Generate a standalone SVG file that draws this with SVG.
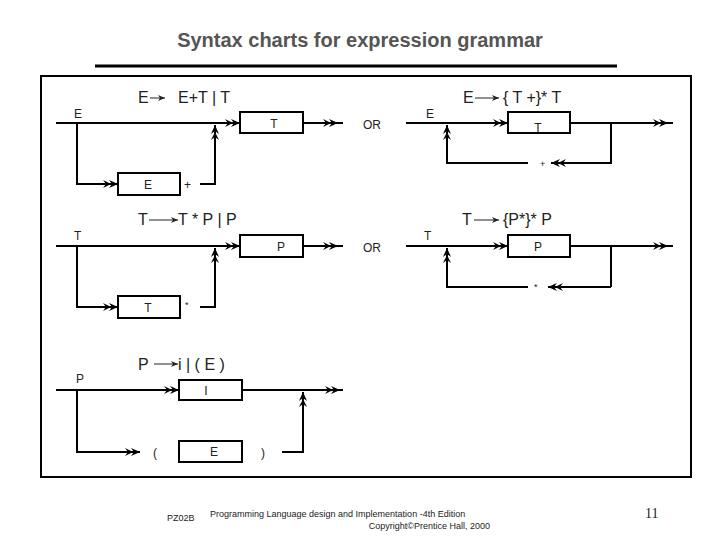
<svg xmlns="http://www.w3.org/2000/svg" width="720" height="540" viewBox="0 0 720 540">
<style>
text{font-family:"Liberation Sans",Arial,sans-serif;fill:#222}
.h{font-size:16px}
.l{font-size:12px}
.s{font-size:9px}
.box{fill:#fff;stroke:#000;stroke-width:2}
.c line,.c polyline{stroke:#000;stroke-width:2;fill:none}
.ar{stroke:#222;stroke-width:1}
</style>
<defs>
<marker id="a" viewBox="0 0 16 10" refX="15" refY="5" markerWidth="16" markerHeight="10" markerUnits="userSpaceOnUse" orient="auto">
<path d="M0,1 L8,5 L0,9 L3,5 Z M6,1 L15,5 L6,9 L9,5 Z" fill="#000"/>
</marker>
<marker id="s" viewBox="0 0 8 6" refX="7" refY="3" markerWidth="8" markerHeight="6" markerUnits="userSpaceOnUse" orient="auto">
<path d="M0,0 L7,3 L0,6 L2,3 Z" fill="#222"/>
</marker>
</defs>
<rect width="720" height="540" fill="#fff"/>
<text x="360" y="47" text-anchor="middle" style="font-size:20px;font-weight:bold;fill:#555">Syntax charts for expression grammar</text>
<line x1="95" y1="66" x2="617" y2="66" stroke="#000" stroke-width="3"/>
<rect x="41" y="76" width="650" height="401" fill="none" stroke="#000" stroke-width="2"/>
<g class="c" id="connectors">
<line x1="56" y1="123" x2="240" y2="123" marker-end="url(#a)"/>
<line x1="303" y1="123" x2="343" y2="123"/><line x1="303" y1="123" x2="338" y2="123" marker-end="url(#a)"/>
<polyline points="77,123 77,184 118,184" marker-end="url(#a)"/>
<polyline points="200,184 215,184 215,125" marker-end="url(#a)"/>
<line x1="56" y1="246" x2="240" y2="246" marker-end="url(#a)"/>
<line x1="303" y1="246" x2="343" y2="246"/><line x1="303" y1="246" x2="338" y2="246" marker-end="url(#a)"/>
<polyline points="77,246 77,307 118,307" marker-end="url(#a)"/>
<polyline points="200,307 215,307 215,248" marker-end="url(#a)"/>
<line x1="56" y1="390" x2="179" y2="390" marker-end="url(#a)"/>
<line x1="242" y1="390" x2="343" y2="390"/><line x1="303" y1="390" x2="340" y2="390" marker-end="url(#a)"/>
<polyline points="77,390 77,452 140,452" marker-end="url(#a)"/>
<polyline points="282,452 303,452 303,392" marker-end="url(#a)"/>
<line x1="406" y1="123" x2="508" y2="123" marker-end="url(#a)"/>
<line x1="570" y1="123" x2="673" y2="123"/><line x1="611" y1="123" x2="668" y2="123" marker-end="url(#a)"/>
<polyline points="611,123 611,163 558,163"/><line x1="611" y1="163" x2="551" y2="163" marker-end="url(#a)"/>
<polyline points="528,163 447,163 447,125" marker-end="url(#a)"/>
<line x1="406" y1="246" x2="508" y2="246" marker-end="url(#a)"/>
<line x1="570" y1="246" x2="673" y2="246"/><line x1="611" y1="246" x2="668" y2="246" marker-end="url(#a)"/>
<line x1="611" y1="246" x2="611" y2="287"/><line x1="611" y1="287" x2="548" y2="287" marker-end="url(#a)"/>
<polyline points="528,287 447,287 447,248" marker-end="url(#a)"/>
</g>
<g id="eT"><rect class="box" x="240" y="112" width="63" height="21"/><text class="l" x="274" y="128" text-anchor="middle">T</text></g>
<g id="eE"><rect class="box" x="118" y="173" width="62" height="22"/><text class="l" x="148" y="189" text-anchor="middle">E</text></g>
<g id="tP"><rect class="box" x="240" y="235" width="63" height="22"/><text class="l" x="281" y="251" text-anchor="middle">P</text></g>
<g id="tT"><rect class="box" x="118" y="296" width="62" height="22"/><text class="l" x="148" y="312" text-anchor="middle">T</text></g>
<g id="pI"><rect class="box" x="179" y="380" width="63" height="20"/><text class="l" x="206" y="395" text-anchor="middle">I</text></g>
<g id="pE"><rect class="box" x="179" y="441" width="63" height="21"/><text class="l" x="214" y="456" text-anchor="middle">E</text></g>
<g id="rT"><rect class="box" x="508" y="112" width="62" height="21"/><text class="l" x="538" y="132" text-anchor="middle">T</text></g>
<g id="rP"><rect class="box" x="508" y="235" width="62" height="22"/><text class="l" x="538" y="251" text-anchor="middle">P</text></g>
<g id="labels">
<text class="h" x="138" y="103">E</text><line class="ar" x1="150" y1="98" x2="165" y2="98" marker-end="url(#s)"/><text class="h" x="178" y="103">E+T | T</text>
<text class="l" x="74" y="118">E</text>
<text class="l" x="184" y="189">+</text>
<text class="l" x="363" y="129">OR</text>
<text class="h" x="138" y="225">T</text><line class="ar" x1="149" y1="220" x2="178" y2="220" marker-end="url(#s)"/><text class="h" x="178" y="225">T * P | P</text>
<text class="l" x="74" y="240">T</text>
<text class="s" x="185" y="308">*</text>
<text class="l" x="363" y="252">OR</text>
<text class="h" x="138" y="370">P</text><line class="ar" x1="154" y1="364" x2="178" y2="364" marker-end="url(#s)"/><text class="h" x="178" y="370">i | ( E )</text>
<text class="l" x="76" y="383">P</text>
<text class="l" x="153" y="457">(</text>
<text class="l" x="261" y="457">)</text>
<text class="h" x="463" y="103">E</text><line class="ar" x1="475" y1="98" x2="499" y2="98" marker-end="url(#s)"/><text class="h" x="503" y="103">{ T +}*  T</text>
<text class="l" x="426" y="118">E</text>
<text class="s" x="540" y="167">+</text>
<text class="h" x="462" y="225">T</text><line class="ar" x1="474" y1="220" x2="499" y2="220" marker-end="url(#s)"/><text class="h" x="503" y="225">{P*}*  P</text>
<text class="l" x="424" y="240">T</text>
<text class="s" x="534" y="290">*</text>
</g>
<text x="167" y="521" style="font-size:9px">PZ02B</text>
<text x="210" y="517" style="font-size:9px">Programming Language design and Implementation -4th Edition</text>
<text x="490" y="529" text-anchor="end" style="font-size:9px">Copyright©Prentice Hall, 2000</text>
<text x="645" y="518" style="font-family:'Liberation Serif',serif;font-size:14px">11</text>
</svg>
